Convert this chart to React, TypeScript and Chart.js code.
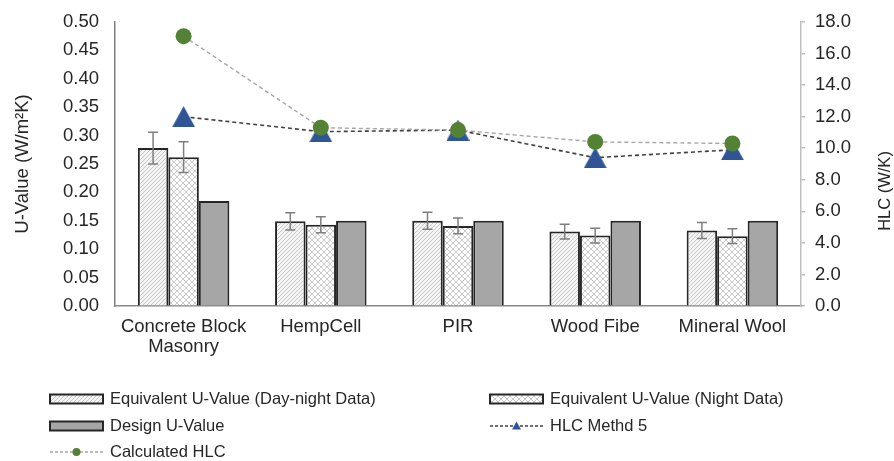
import { useEffect, useRef } from "react";
import { Chart, registerables } from "chart.js";
Chart.register(...registerables);

const categories: (string | string[])[] = [["Concrete Block", "Masonry"], "HempCell", "PIR", "Wood Fibe", "Mineral Wool"];
const uDayNight = [0.278, 0.149, 0.15, 0.131, 0.133];
const uDayNightErr = [0.028, 0.015, 0.015, 0.013, 0.014];
const uNight = [0.262, 0.143, 0.141, 0.124, 0.123];
const uNightErr = [0.027, 0.014, 0.014, 0.013, 0.013];
const uDesign = [0.185, 0.15, 0.15, 0.15, 0.15];
const hlcCalculated = [17.1, 11.3, 11.15, 10.4, 10.3];
const hlcMethod5 = [12.0, 11.05, 11.15, 9.4, 9.9];
const seriesLabels = [
  "Equivalent U-Value (Day-night Data)",
  "Equivalent U-Value (Night Data)",
  "Design U-Value",
  "HLC Methd 5",
  "Calculated HLC",
];
const leftTitle = "U-Value (W/m\u00B2K)";
const rightTitle = "HLC (W/K)";

const FONT = "'Liberation Sans', Arial, sans-serif";
const TEXT = "#262626";

function makeHatch(ctx: CanvasRenderingContext2D) {
  const c = document.createElement("canvas");
  c.width = 4;
  c.height = 4;
  const g = c.getContext("2d")!;
  g.fillStyle = "#f4f4f4";
  g.fillRect(0, 0, 4, 4);
  g.strokeStyle = "#c2c2c2";
  g.lineWidth = 0.9;
  g.beginPath();
  g.moveTo(0, 4);
  g.lineTo(4, 0);
  g.moveTo(-1, 1);
  g.lineTo(1, -1);
  g.moveTo(3, 5);
  g.lineTo(5, 3);
  g.stroke();
  return ctx.createPattern(c, "repeat")!;
}

function makeCross(ctx: CanvasRenderingContext2D) {
  const c = document.createElement("canvas");
  c.width = 6;
  c.height = 6;
  const g = c.getContext("2d")!;
  g.fillStyle = "#ffffff";
  g.fillRect(0, 0, 6, 6);
  g.strokeStyle = "#cacaca";
  g.lineWidth = 1;
  g.beginPath();
  g.moveTo(0, 0);
  g.lineTo(6, 6);
  g.moveTo(0, 6);
  g.lineTo(6, 0);
  g.stroke();
  return ctx.createPattern(c, "repeat")!;
}

function makeTriangle(w: number, h: number, color: string) {
  const c = document.createElement("canvas");
  c.width = w;
  c.height = h;
  const g = c.getContext("2d")!;
  g.fillStyle = color;
  g.beginPath();
  g.moveTo(w / 2, 0);
  g.lineTo(w, h);
  g.lineTo(0, h);
  g.closePath();
  g.fill();
  return c;
}

export default function App() {
  const ref = useRef<HTMLCanvasElement | null>(null);

  useEffect(() => {
    document.body.style.margin = "0";
    const canvas = ref.current!;
    const ctx = canvas.getContext("2d")!;
    const hatch = makeHatch(ctx);
    const cross = makeCross(ctx);
    const tri = makeTriangle(23, 21, "#2f5597");
    const errs = [uDayNightErr, uNightErr];

    const errorBars = {
      id: "errorBars",
      afterDatasetsDraw(chart: any) {
        const c = chart.ctx;
        const ys = chart.scales.y;
        c.save();
        c.strokeStyle = "#7f7f7f";
        c.lineWidth = 1.5;
        [0, 1].forEach((di) => {
          const meta = chart.getDatasetMeta(di);
          const vals = chart.data.datasets[di].data as number[];
          meta.data.forEach((bar: any, i: number) => {
            const v = vals[i];
            const e = errs[di][i];
            const yt = ys.getPixelForValue(v + e);
            const yb = ys.getPixelForValue(v - e);
            c.beginPath();
            c.moveTo(bar.x, yt);
            c.lineTo(bar.x, yb);
            c.moveTo(bar.x - 5, yt);
            c.lineTo(bar.x + 5, yt);
            c.moveTo(bar.x - 5, yb);
            c.lineTo(bar.x + 5, yb);
            c.stroke();
          });
        });
        c.restore();
      },
    };

    const legendAndTitle = {
      id: "customLegend",
      afterDraw(chart: any) {
        const c = chart.ctx;
        c.save();
        // right axis title, reading bottom-to-top
        c.fillStyle = TEXT;
        c.font = `16.5px ${FONT}`;
        c.textAlign = "center";
        c.textBaseline = "middle";
        c.translate(885, 191);
        c.rotate(-Math.PI / 2);
        c.fillText(rightTitle, 0, 0);
        c.setTransform(1, 0, 0, 1, 0, 0);

        const items = [
          { label: seriesLabels[0], kind: "bar", fill: hatch, x: 50, y: 399 },
          { label: seriesLabels[1], kind: "bar", fill: cross, x: 490, y: 399 },
          { label: seriesLabels[2], kind: "bar", fill: "#a6a6a6", x: 50, y: 426 },
          { label: seriesLabels[3], kind: "tri", x: 490, y: 426 },
          { label: seriesLabels[4], kind: "circle", x: 50, y: 452 },
        ];
        items.forEach((it: any) => {
          if (it.kind === "bar") {
            c.fillStyle = it.fill;
            c.fillRect(it.x, it.y - 4.5, 53, 9);
            c.strokeStyle = "#262626";
            c.lineWidth = 2;
            c.strokeRect(it.x, it.y - 4.5, 53, 9);
          } else {
            c.strokeStyle = it.kind === "tri" ? "#404040" : "#a6a6a6";
            c.lineWidth = 1.3;
            c.setLineDash([3, 2]);
            c.beginPath();
            c.moveTo(it.x, it.y);
            c.lineTo(it.x + 53, it.y);
            c.stroke();
            c.setLineDash([]);
            if (it.kind === "tri") {
              c.fillStyle = "#2f5597";
              c.beginPath();
              c.moveTo(it.x + 26.5, it.y - 4.5);
              c.lineTo(it.x + 31, it.y + 3.5);
              c.lineTo(it.x + 22, it.y + 3.5);
              c.closePath();
              c.fill();
            } else {
              c.fillStyle = "#548235";
              c.beginPath();
              c.arc(it.x + 26.5, it.y, 4, 0, Math.PI * 2);
              c.fill();
            }
          }
          c.fillStyle = TEXT;
          c.font = `16.5px ${FONT}`;
          c.textAlign = "left";
          c.textBaseline = "middle";
          c.fillText(it.label, it.x + 60, it.y);
        });
        c.restore();
      },
    };

    const chart = new Chart(canvas, {
      type: "bar",
      data: {
        labels: categories,
        datasets: [
          {
            label: seriesLabels[0],
            data: uDayNight,
            backgroundColor: hatch,
            borderColor: "#262626",
            borderWidth: 2,
            yAxisID: "y",
            order: 2,
          },
          {
            label: seriesLabels[1],
            data: uNight,
            backgroundColor: cross,
            borderColor: "#262626",
            borderWidth: 2,
            yAxisID: "y",
            order: 2,
          },
          {
            label: seriesLabels[2],
            data: uDesign,
            backgroundColor: "#a6a6a6",
            borderColor: "#262626",
            borderWidth: 2,
            yAxisID: "y",
            order: 2,
          },
          {
            type: "line",
            label: seriesLabels[3],
            data: hlcMethod5,
            yAxisID: "y1",
            borderColor: "#404040",
            borderWidth: 1.6,
            borderDash: [4, 3],
            pointStyle: tri,
            pointRadius: 10,
            backgroundColor: "#2f5597",
            order: 1,
          } as any,
          {
            type: "line",
            label: seriesLabels[4],
            data: hlcCalculated,
            yAxisID: "y1",
            borderColor: "#a6a6a6",
            borderWidth: 1.4,
            borderDash: [4, 3],
            pointStyle: "circle",
            pointRadius: 8,
            pointBorderWidth: 0,
            backgroundColor: "#548235",
            pointBackgroundColor: "#548235",
            order: 0,
          } as any,
        ],
      },
      options: {
        animation: false,
        responsive: false,
        events: [],
        layout: { padding: { top: 22, left: 0, right: 0, bottom: 0 } },
        datasets: {
          bar: { categoryPercentage: 0.667, barPercentage: 1 },
        },
        plugins: {
          legend: { display: false },
          tooltip: { enabled: false },
        },
        scales: {
          x: {
            grid: { display: false, drawTicks: false },
            border: { color: "#878787", width: 1.5 },
            ticks: {
              color: TEXT,
              font: { family: FONT, size: 18.5, lineHeight: 1.08 },
              padding: 11,
              maxRotation: 0,
              autoSkip: false,
            },
            afterFit: (s: any) => {
              s.height = 155;
            },
          },
          y: {
            position: "left",
            min: 0,
            max: 0.5,
            grid: { display: true, drawOnChartArea: false, drawTicks: true, tickLength: 16, color: "rgba(0,0,0,0)" },
            border: { color: "#808080", width: 1.5 },
            ticks: {
              stepSize: 0.05,
              color: TEXT,
              padding: 0,
              font: { family: FONT, size: 18.5 },
              callback: (v: any) => Number(v).toFixed(2),
            },
            title: {
              display: true,
              text: leftTitle,
              color: TEXT,
              font: { family: FONT, size: 18.5, lineHeight: 1.2 },
              padding: { top: 12, bottom: 0 },
            },
            afterFit: (s: any) => {
              s.width = 115;
            },
          },
          y1: {
            position: "right",
            min: 0,
            max: 18,
            grid: { drawOnChartArea: false, drawTicks: true, tickLength: 4, color: "#bfbfbf", lineWidth: 1.5 },
            border: { color: "#bfbfbf", width: 1.5 },
            ticks: {
              stepSize: 2,
              color: TEXT,
              padding: 10,
              font: { family: FONT, size: 18.5 },
              callback: (v: any) => Number(v).toFixed(1),
            },
            afterFit: (s: any) => {
              s.width = 93;
            },
          },
        },
      },
      plugins: [errorBars, legendAndTitle],
    });
    return () => chart.destroy();
  }, []);

  return <canvas ref={ref} width={894} height={461} style={{ display: "block" }} />;
}
